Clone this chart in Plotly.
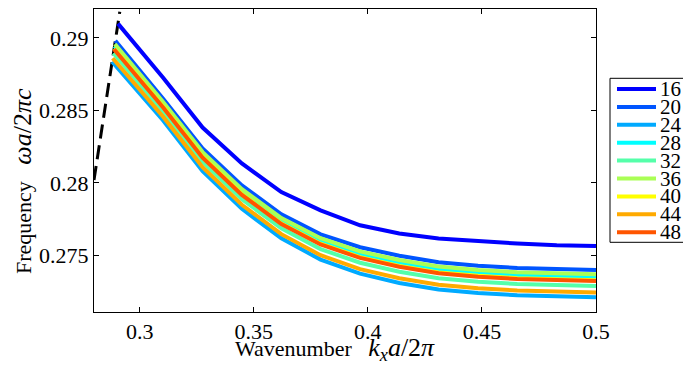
import plotly.graph_objects as go

# ---------------- data ----------------
size_labels = ["16", "20", "24", "28", "32", "36", "40", "44", "48"]
line_colors = ["#0000FF", "#0055FF", "#00AAFF", "#00FFFF", "#55FFAA",
               "#AAFF55", "#FFFF00", "#FFAA00", "#FF5500"]

kx_grid = [0.3103, 0.3276, 0.3448, 0.3621, 0.3793, 0.3966, 0.4138,
           0.4310, 0.4483, 0.4655, 0.4828, 0.5]
# first point of every curve lies on the light line
kx_start = [0.2905, 0.289345, 0.287936, 0.288983, 0.288519,
            0.289122, 0.288818, 0.288179, 0.288777]

freq_16 = [0.290983, 0.28725, 0.28381, 0.281334, 0.279361, 0.278102, 0.27707,
           0.2765, 0.276155, 0.27597, 0.275811, 0.275695, 0.275647]
freq_20 = [0.289794, 0.285805, 0.282366, 0.279821, 0.277827, 0.276451, 0.275557,
           0.274972, 0.274525, 0.274285, 0.274127, 0.27403, 0.273989]
freq_24 = [0.288348, 0.284302, 0.280807, 0.278206, 0.276174, 0.274704, 0.273735,
           0.273094, 0.272647, 0.272407, 0.272249, 0.272152, 0.272111]
freq_28 = [0.289423, 0.28542, 0.281966, 0.279407, 0.277403, 0.276003, 0.27509,
           0.27449, 0.274043, 0.273803, 0.273645, 0.273548, 0.273507]
freq_32 = [0.288946, 0.284924, 0.281452, 0.278874, 0.276858, 0.275427, 0.274489,
           0.273871, 0.273424, 0.273184, 0.273026, 0.272929, 0.272888]
freq_36 = [0.289566, 0.285568, 0.28212, 0.279566, 0.277567, 0.276176, 0.27527,
           0.274676, 0.274229, 0.273989, 0.273831, 0.273734, 0.273693]
freq_40 = [0.289254, 0.285244, 0.281783, 0.279218, 0.277209, 0.275798, 0.274877,
           0.27427, 0.273823, 0.273583, 0.273425, 0.273328, 0.273287]
freq_44 = [0.288597, 0.284561, 0.281075, 0.278484, 0.276459, 0.275005, 0.274049,
           0.273417, 0.27297, 0.27273, 0.272572, 0.272475, 0.272434]
freq_48 = [0.289211, 0.2852, 0.281738, 0.27917, 0.277161, 0.275747, 0.274823,
           0.274215, 0.273768, 0.273528, 0.27337, 0.273273, 0.273232]

light_kx = [0.28, 0.2913]
light_freq = [0.2802, 0.2918]

x_tickvals = [0.3, 0.35, 0.4, 0.45, 0.5]
x_ticktext = ["0.3", "0.35", "0.4", "0.45", "0.5"]
y_tickvals = [0.275, 0.28, 0.285, 0.29]
y_ticktext = ["0.275", "0.28", "0.285", "0.29"]

series = [freq_16, freq_20, freq_24, freq_28, freq_32,
          freq_36, freq_40, freq_44, freq_48]

x_title = ("Wavenumber&nbsp;&nbsp;&nbsp;<span style='font-size:26px'>"
           "<i>k<sub>x</sub>a</i>/2<i>π</i></span>")
y_title = ("Frequency&nbsp;&nbsp;&nbsp;<span style='font-size:26px'>"
           "<i>ωa</i>/2<i>πc</i></span>")

# ---------------- figure ----------------
FONT = "Liberation Serif"
fig = go.Figure()

fig.add_trace(go.Scatter(x=light_kx, y=light_freq, mode="lines",
                         line=dict(color="black", width=3, dash="14px,7px"),
                         showlegend=False, hoverinfo="skip"))

for lab, col, x0, ys in zip(size_labels, line_colors, kx_start, series):
    fig.add_trace(go.Scatter(x=[x0] + kx_grid, y=ys, mode="lines", name=lab,
                             line=dict(color=col, width=4),
                             showlegend=False))

# ---------------- layout ----------------
# page body has an 8px margin, so the figure is drawn 8px in from the corner
OFF = 8
W, H = 683, 358
L, R, T, B = 86, 95, 1, 54
pw, ph = W - L - R, H - T - B

def fx(p):  # window pixel x -> paper
    return (p - OFF - L) / pw

def fy(p):  # window pixel y -> paper
    return (H - B - (p - OFF)) / ph

fig.update_layout(
    width=W, height=H,
    margin=dict(l=L, r=R, t=T, b=B, autoexpand=False),
    plot_bgcolor="white", paper_bgcolor="white",
    font=dict(family=FONT, size=22, color="black"),
    showlegend=False,
)

axis_common = dict(showgrid=False, zeroline=False, showline=True,
                   linecolor="black", linewidth=1, mirror="ticks",
                   ticks="inside", ticklen=5, tickcolor="black", tickwidth=1,
                   automargin=False,
                   tickfont=dict(family=FONT, size=22, color="black"))

fig.update_xaxes(range=[0.28, 0.5], tickvals=x_tickvals, ticktext=x_ticktext,
                 **axis_common)
fig.update_yaxes(range=[0.27109, 0.29199], tickvals=y_tickvals, ticktext=y_ticktext,
                 ticklabelstandoff=0, **axis_common)

# axis titles
fig.add_annotation(xref="paper", yref="paper", x=fx(335), y=fy(349),
                   text=x_title, showarrow=False, xanchor="center", yanchor="middle",
                   font=dict(family=FONT, size=22, color="black"))
fig.add_annotation(xref="paper", yref="paper", x=fx(22), y=fy(181),
                   text=y_title, showarrow=False, textangle=-90,
                   xanchor="center", yanchor="middle",
                   font=dict(family=FONT, size=22, color="black"))

# legend drawn as a box with samples
fig.add_shape(type="rect", xref="paper", yref="paper",
              x0=fx(610), x1=fx(690), y0=fy(242.3), y1=fy(78.3),
              line=dict(color="black", width=1), fillcolor="white", layer="above")
for i, (lab, col) in enumerate(zip(size_labels, line_colors)):
    yc = fy(89 + 17.9 * i)
    fig.add_shape(type="line", xref="paper", yref="paper",
                  x0=fx(617), x1=fx(656), y0=yc, y1=yc,
                  line=dict(color=col, width=4), layer="above")
    fig.add_annotation(xref="paper", yref="paper", x=fx(658), y=yc,
                       text=lab, showarrow=False, xanchor="left", yanchor="middle",
                       font=dict(family=FONT, size=21, color="black"))

fig.write_html("out.html")
